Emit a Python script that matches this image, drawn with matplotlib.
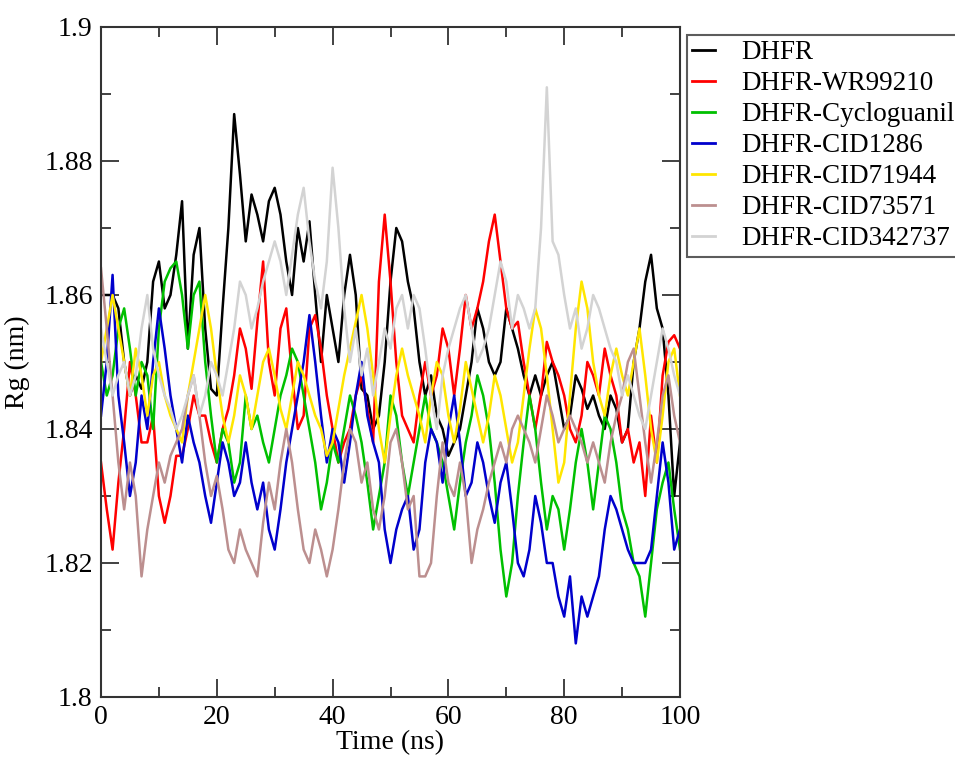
import numpy as np
import matplotlib
matplotlib.use('Agg')
import matplotlib.pyplot as plt
from matplotlib.ticker import MultipleLocator

plt.rcParams['font.family'] = ['Liberation Serif', 'DejaVu Serif']

# time axis, one frame per ns
time_ns = np.arange(0, 101)

dhfr = [
    1.860, 1.860, 1.860, 1.858, 1.850, 1.845, 1.848, 1.846, 1.850, 1.862,
    1.865, 1.858, 1.860, 1.866, 1.874, 1.852, 1.866, 1.870, 1.855, 1.846,
    1.845, 1.858, 1.870, 1.887, 1.878, 1.868, 1.875, 1.872, 1.868, 1.874,
    1.876, 1.872, 1.865, 1.860, 1.870, 1.865, 1.871, 1.860, 1.850, 1.860,
    1.855, 1.850, 1.860, 1.866, 1.860, 1.846, 1.845, 1.840, 1.842, 1.850,
    1.862, 1.870, 1.868, 1.862, 1.858, 1.850, 1.845, 1.848, 1.842, 1.840,
    1.836, 1.838, 1.840, 1.845, 1.850, 1.858, 1.855, 1.850, 1.848, 1.850,
    1.858, 1.855, 1.852, 1.848, 1.845, 1.848, 1.845, 1.848, 1.850, 1.845,
    1.840, 1.842, 1.848, 1.846, 1.843, 1.845, 1.842, 1.840, 1.845, 1.843,
    1.838, 1.840, 1.850, 1.855, 1.862, 1.866, 1.858, 1.855, 1.845, 1.830,
    1.838,
]
wr99210 = [
    1.835, 1.828, 1.822, 1.832, 1.840, 1.850, 1.845, 1.838, 1.838, 1.842,
    1.830, 1.826, 1.830, 1.836, 1.836, 1.840, 1.845, 1.842, 1.842, 1.838,
    1.835, 1.840, 1.843, 1.848, 1.855, 1.852, 1.846, 1.856, 1.865, 1.850,
    1.845, 1.855, 1.858, 1.848, 1.840, 1.842, 1.855, 1.857, 1.852, 1.845,
    1.840, 1.835, 1.838, 1.840, 1.845, 1.848, 1.843, 1.838, 1.862, 1.872,
    1.862, 1.850, 1.842, 1.840, 1.838, 1.845, 1.850, 1.845, 1.848, 1.855,
    1.852, 1.845, 1.852, 1.860, 1.855, 1.858, 1.862, 1.868, 1.872, 1.865,
    1.858, 1.855, 1.856, 1.850, 1.845, 1.840, 1.845, 1.853, 1.850, 1.848,
    1.845, 1.840, 1.838, 1.842, 1.850, 1.848, 1.845, 1.852, 1.848, 1.845,
    1.838, 1.840, 1.835, 1.838, 1.830, 1.842, 1.835, 1.848, 1.853, 1.854,
    1.852,
]
cycloguanil = [
    1.850, 1.845, 1.848, 1.855, 1.858, 1.852, 1.845, 1.850, 1.848, 1.840,
    1.855, 1.862, 1.864, 1.865, 1.860, 1.852, 1.860, 1.862, 1.850, 1.842,
    1.835, 1.840, 1.838, 1.832, 1.835, 1.845, 1.840, 1.842, 1.838, 1.835,
    1.840, 1.845, 1.848, 1.852, 1.850, 1.845, 1.840, 1.835, 1.828, 1.832,
    1.838, 1.835, 1.840, 1.845, 1.842, 1.838, 1.832, 1.825, 1.830, 1.835,
    1.845, 1.842, 1.835, 1.830, 1.835, 1.840, 1.845, 1.840, 1.838, 1.835,
    1.830, 1.825, 1.832, 1.838, 1.842, 1.848, 1.845, 1.840, 1.832, 1.822,
    1.815, 1.820, 1.830, 1.838, 1.845, 1.840, 1.832, 1.825, 1.830, 1.828,
    1.822, 1.828, 1.835, 1.840, 1.835, 1.828, 1.835, 1.842, 1.840, 1.835,
    1.828, 1.825, 1.820, 1.818, 1.812, 1.820, 1.828, 1.832, 1.835, 1.828,
    1.822,
]
cid1286 = [
    1.842, 1.850, 1.863, 1.845, 1.838, 1.830, 1.835, 1.845, 1.840, 1.850,
    1.858, 1.852, 1.845, 1.840, 1.835, 1.842, 1.838, 1.835, 1.830, 1.826,
    1.832, 1.838, 1.835, 1.830, 1.832, 1.838, 1.832, 1.828, 1.832, 1.825,
    1.822, 1.828, 1.835, 1.840, 1.845, 1.850, 1.857, 1.850, 1.842, 1.835,
    1.840, 1.838, 1.832, 1.838, 1.845, 1.850, 1.842, 1.838, 1.835, 1.825,
    1.820, 1.825, 1.828, 1.830, 1.822, 1.825, 1.835, 1.840, 1.838, 1.832,
    1.840, 1.845, 1.838, 1.830, 1.832, 1.838, 1.835, 1.830, 1.826, 1.832,
    1.835, 1.828, 1.820, 1.818, 1.822, 1.830, 1.826, 1.820, 1.820, 1.815,
    1.812, 1.818, 1.808, 1.815, 1.812, 1.815, 1.818, 1.825, 1.830, 1.828,
    1.825, 1.822, 1.820, 1.820, 1.820, 1.822, 1.830, 1.838, 1.832, 1.822,
    1.825,
]
cid71944 = [
    1.850, 1.855, 1.860, 1.855, 1.850, 1.845, 1.852, 1.848, 1.842, 1.848,
    1.850, 1.845, 1.842, 1.840, 1.838, 1.845, 1.850, 1.855, 1.860, 1.855,
    1.848, 1.842, 1.838, 1.842, 1.848, 1.845, 1.840, 1.845, 1.850, 1.852,
    1.848, 1.843, 1.840, 1.845, 1.850, 1.848, 1.845, 1.842, 1.840, 1.836,
    1.838, 1.843, 1.848, 1.852, 1.856, 1.860, 1.855, 1.848, 1.840, 1.835,
    1.842, 1.848, 1.852, 1.848, 1.845, 1.842, 1.838, 1.845, 1.850, 1.848,
    1.842, 1.838, 1.843, 1.850, 1.846, 1.842, 1.838, 1.842, 1.848, 1.845,
    1.840, 1.835, 1.838, 1.845, 1.852, 1.858, 1.855, 1.848, 1.840, 1.832,
    1.835, 1.845, 1.855, 1.862, 1.858, 1.850, 1.845, 1.842, 1.848, 1.852,
    1.848, 1.845, 1.850, 1.855, 1.848, 1.840, 1.835, 1.842, 1.850, 1.852,
    1.845,
]
cid73571 = [
    1.864, 1.855, 1.845, 1.835, 1.828, 1.835, 1.830, 1.818, 1.825, 1.830,
    1.835, 1.832, 1.836, 1.838, 1.840, 1.845, 1.848, 1.842, 1.835, 1.830,
    1.833, 1.828, 1.822, 1.820, 1.825, 1.822, 1.820, 1.818, 1.826, 1.832,
    1.828, 1.835, 1.840, 1.835, 1.828, 1.822, 1.820, 1.825, 1.822, 1.818,
    1.822, 1.828, 1.835, 1.840, 1.838, 1.832, 1.835, 1.828, 1.825, 1.830,
    1.838, 1.840, 1.835, 1.828, 1.830, 1.818, 1.818, 1.820, 1.830, 1.838,
    1.832, 1.830, 1.835, 1.830, 1.820, 1.825, 1.828, 1.832, 1.835, 1.838,
    1.835, 1.840, 1.842, 1.840, 1.838, 1.835, 1.840, 1.845, 1.842, 1.838,
    1.840, 1.842, 1.840, 1.838, 1.835, 1.838, 1.835, 1.832, 1.838, 1.842,
    1.845, 1.850, 1.852, 1.845, 1.838, 1.832, 1.838, 1.845, 1.848, 1.842,
    1.838,
]
cid342737 = [
    1.855, 1.850, 1.845, 1.848, 1.850, 1.845, 1.848, 1.855, 1.860, 1.852,
    1.848, 1.845, 1.843, 1.840, 1.842, 1.845, 1.848, 1.842, 1.845, 1.850,
    1.848, 1.845, 1.850, 1.855, 1.862, 1.860, 1.855, 1.858, 1.862, 1.865,
    1.868, 1.865, 1.860, 1.866, 1.872, 1.876, 1.868, 1.862, 1.858, 1.865,
    1.879, 1.870, 1.858, 1.850, 1.855, 1.848, 1.852, 1.845, 1.850, 1.855,
    1.852, 1.858, 1.860, 1.855, 1.860, 1.858, 1.852, 1.845, 1.840, 1.848,
    1.852, 1.855, 1.858, 1.860, 1.855, 1.850, 1.852, 1.855, 1.860, 1.865,
    1.862, 1.855, 1.860, 1.858, 1.855, 1.858, 1.870, 1.891, 1.868, 1.866,
    1.860, 1.855, 1.858, 1.852, 1.855, 1.860, 1.858, 1.855, 1.852, 1.850,
    1.845, 1.848, 1.845, 1.842, 1.840, 1.845, 1.850, 1.855, 1.852, 1.848,
    1.845,
]

labels = ['DHFR', 'DHFR-WR99210', 'DHFR-Cycloguanil', 'DHFR-CID1286',
          'DHFR-CID71944', 'DHFR-CID73571', 'DHFR-CID342737']
series = [dhfr, wr99210, cycloguanil, cid1286, cid71944, cid73571, cid342737]
colors = ['#000000', '#ff0000', '#00c000', '#0000cc', '#ffe600', '#bc8f8f', '#d3d3d3']

fig = plt.figure(figsize=(9.55, 7.57), dpi=100)
ax = fig.add_axes([101 / 955, 60 / 757, 579 / 955, 670 / 757])

for vals, col, lab in zip(series, colors, labels):
    ax.plot(time_ns, vals, color=col, lw=1.8, label=lab)

ax.set_xlim(0, 100)
ax.set_ylim(1.8, 1.9)
ax.xaxis.set_major_locator(MultipleLocator(20))
ax.xaxis.set_minor_locator(MultipleLocator(10))
ax.yaxis.set_minor_locator(MultipleLocator(0.01))
ax.set_yticks([1.8, 1.82, 1.84, 1.86, 1.88, 1.9])
ax.set_yticklabels(['1.8', '1.82', '1.84', '1.86', '1.88', '1.9'])
ax.tick_params(which='both', direction='in', top=True, right=True,
               labelsize=20, width=1.3, color='#333333')
ax.tick_params(which='major', length=13, pad=6)
ax.tick_params(which='minor', length=7)
for sp in ax.spines.values():
    sp.set_linewidth(1.5)
    sp.set_color('#333333')

ax.set_xlabel('Time (ns)', fontsize=20, labelpad=0)
ax.set_ylabel('Rg (nm)', fontsize=20, labelpad=10)

leg = ax.legend(loc='upper left', bbox_to_anchor=(687 / 955, 1 - 35 / 757),
                bbox_transform=fig.transFigure, fontsize=19.5, frameon=True,
                fancybox=False, handlelength=0.85, handletextpad=0.95,
                labelspacing=0.22, borderpad=0.2, borderaxespad=0)
leg.get_frame().set_edgecolor('#333333')
leg.get_frame().set_linewidth(1.5)
for h in leg.get_lines():
    h.set_linewidth(2)

fig.savefig('out.png', dpi=100)
